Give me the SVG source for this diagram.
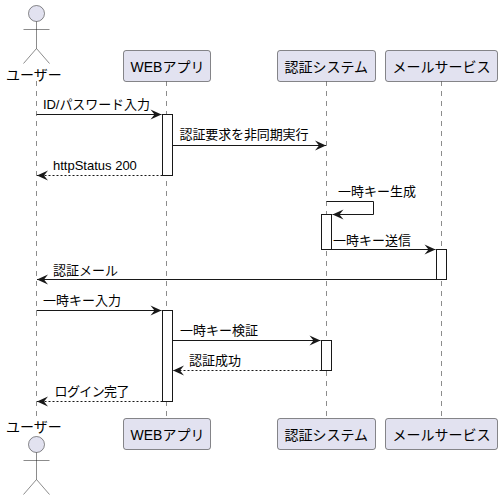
<svg xmlns="http://www.w3.org/2000/svg" width="502" height="500" viewBox="0 0 502 500">
<defs><style>
text{font-family:"Liberation Sans","Noto Sans CJK JP",sans-serif;font-size:13px;fill:#000}
.t{font-size:14px}
.life{stroke:#181818;stroke-width:.5;stroke-dasharray:5,5;fill:none}
.box{fill:#E2E2F0;stroke:#181818;stroke-width:.5}
.act{fill:#fff;stroke:#181818;stroke-width:1}
.head{fill:#E2E2F0;stroke:#181818;stroke-width:.5}
.limb{fill:none;stroke:#181818;stroke-width:.5}
.m{fill:none;stroke:#181818;stroke-width:1}
.d{stroke-dasharray:2,2}
</style>
<marker id="a" markerUnits="userSpaceOnUse" markerWidth="13" markerHeight="12" refX="12" refY="6" orient="auto-start-reverse"><path d="M1 1L12 6L1 11L5 6Z" fill="#181818"/></marker>
</defs>
<g id="lifelines">
<line class="life" x1="36.5" y1="81" x2="36.5" y2="418"/>
<line class="life" x1="166.5" y1="81" x2="166.5" y2="418"/>
<line class="life" x1="326.5" y1="81" x2="326.5" y2="418"/>
<line class="life" x1="441.5" y1="81" x2="441.5" y2="418"/>
</g>
<g id="activations">
<rect class="act" x="162.5" y="114.5" width="10" height="61"/>
<rect class="act" x="321.5" y="214.5" width="10" height="35"/>
<rect class="act" x="436.5" y="249.5" width="10" height="30"/>
<rect class="act" x="162.5" y="310.5" width="10" height="91"/>
<rect class="act" x="321.5" y="340.5" width="10" height="30"/>
</g>
<g id="actor-user-top">
<circle class="head" cx="36.5" cy="13.5" r="8"/>
<path class="limb" d="M36.5 21.5V48.5M23.5 29.5H49.5M36.5 48.5L23.5 63.5M36.5 48.5L49.5 63.5"/>
<text class="t" x="6" y="80">ユーザー</text>
</g>
<g id="actor-user-bottom">
<text class="t" x="6" y="432">ユーザー</text>
<circle class="head" cx="36.5" cy="444.5" r="8"/>
<path class="limb" d="M36.5 452.5V479.5M23.5 460.5H49.5M36.5 479.5L23.5 494.5M36.5 479.5L49.5 494.5"/>
</g>
<g id="web-top"><rect class="box" x="123.5" y="50.5" width="87" height="31" rx="2.5"/><text class="t" x="130.5" y="72">WEBアプリ</text></g>
<g id="auth-top"><rect class="box" x="277.5" y="50.5" width="98" height="31" rx="2.5"/><text class="t" x="284.5" y="72">認証システム</text></g>
<g id="mail-top"><rect class="box" x="385.5" y="50.5" width="112" height="31" rx="2.5"/><text class="t" x="392.5" y="72">メールサービス</text></g>
<g id="web-bottom"><rect class="box" x="123.5" y="418.5" width="87" height="31" rx="2.5"/><text class="t" x="130.5" y="440">WEBアプリ</text></g>
<g id="auth-bottom"><rect class="box" x="277.5" y="418.5" width="98" height="31" rx="2.5"/><text class="t" x="284.5" y="440">認証システム</text></g>
<g id="mail-bottom"><rect class="box" x="385.5" y="418.5" width="112" height="31" rx="2.5"/><text class="t" x="392.5" y="440">メールサービス</text></g>
<g id="connectors">
<line class="m" x1="36.5" y1="114.5" x2="161.5" y2="114.5" marker-end="url(#a)"/>
<line class="m" x1="172.5" y1="145.5" x2="326" y2="145.5" marker-end="url(#a)"/>
<line class="m d" x1="162.5" y1="175.5" x2="37" y2="175.5" marker-end="url(#a)"/>
<path class="m" d="M326.5 201.5H373.5V214.5H332.5" marker-end="url(#a)"/>
<line class="m" x1="331.5" y1="249.5" x2="435.5" y2="249.5" marker-end="url(#a)"/>
<line class="m" x1="436.5" y1="279.5" x2="37" y2="279.5" marker-end="url(#a)"/>
<line class="m" x1="36.5" y1="310.5" x2="161.5" y2="310.5" marker-end="url(#a)"/>
<line class="m" x1="172.5" y1="340.5" x2="320.5" y2="340.5" marker-end="url(#a)"/>
<line class="m d" x1="321.5" y1="370.5" x2="173" y2="370.5" marker-end="url(#a)"/>
<line class="m d" x1="162.5" y1="401.5" x2="37" y2="401.5" marker-end="url(#a)"/>
</g>
<g id="labels">
<text x="43" y="109" textLength="107">ID/パスワード入力</text>
<text x="179.5" y="139" textLength="129">認証要求を非同期実行</text>
<text x="53" y="170">httpStatus 200</text>
<text x="338" y="196">一時キー生成</text>
<text x="333" y="245">一時キー送信</text>
<text x="53" y="275">認証メール</text>
<text x="43" y="305">一時キー入力</text>
<text x="180" y="335">一時キー検証</text>
<text x="189" y="365">認証成功</text>
<text x="54.5" y="396" textLength="75">ログイン完了</text>
</g>
</svg>
